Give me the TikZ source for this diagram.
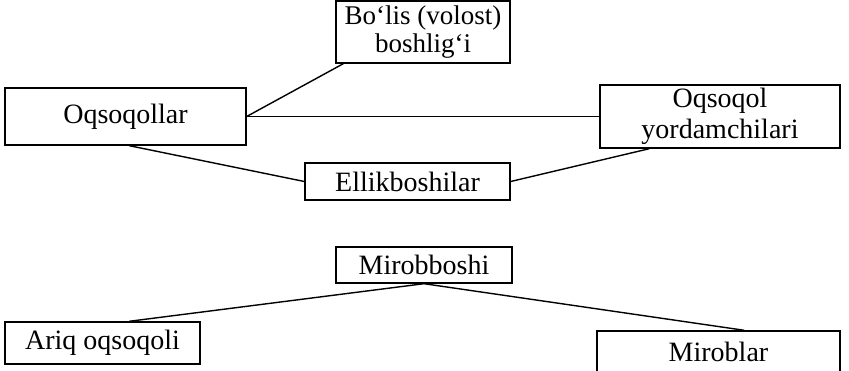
\documentclass[tikz,border=0pt]{standalone}
\usepackage{fontspec}
\setmainfont{Liberation Serif}
\usetikzlibrary{calc}
\begin{document}
\begin{tikzpicture}[x=1pt,y=1pt,
  box/.style={draw,line width=1.4pt,align=center,inner sep=0pt,font=\fontsize{28}{31}\selectfont},
  conn/.style={line width=1.4pt}]
\useasboundingbox (0,0) rectangle (849,371);
\node[box,minimum width=174,minimum height=62,font=\fontsize{27}{28}\selectfont] (bolis) at (423,339) {Bo‘lis (volost)\\boshlig‘i};
\node[box,minimum width=241,minimum height=57] (oqs) at (125.5,254.5) {Oqsoqollar};
\node[box,minimum width=240,minimum height=63] (yord) at (720,254.5) {Oqsoqol\\yordamchilari};
\node[box,minimum width=205,minimum height=37] (ellik) at (407.5,189.5) {Ellikboshilar};
\node[box,minimum width=176,minimum height=36] (mirob) at (424,106) {Mirobboshi};
\node[box,minimum width=195,minimum height=42] (ariq) at (102.5,28) {Ariq oqsoqoli};
\node[box,minimum width=243,minimum height=42] (mirs) at (718.5,19) {Miroblar};
\draw[conn] (oqs.east) -- ($(bolis.south west)+(8,0)$);
\draw[conn] (oqs.east) -- (oqs.east -| yord.west);
\draw[conn] ($(oqs.south west)+(125,0)$) -- (ellik.west);
\draw[conn] (ellik.east) -- ($(yord.south west)+(50,0)$);
\draw[conn] (mirob.south) -- ($(ariq.north west)+(125,0)$);
\draw[conn] (mirob.south) -- ($(mirs.north west)+(148,0)$);
\end{tikzpicture}
\end{document}
